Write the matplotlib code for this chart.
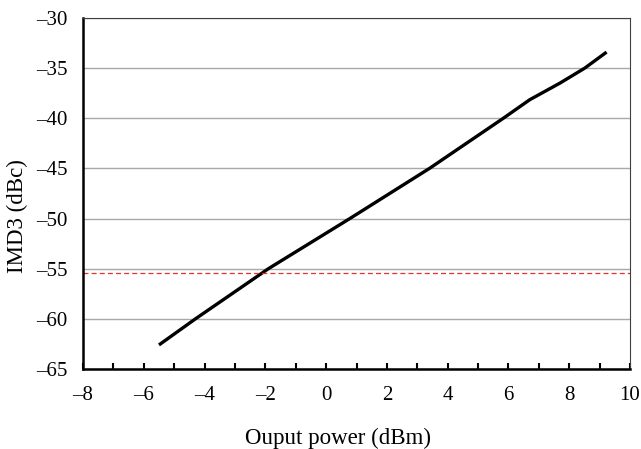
import matplotlib
matplotlib.use("Agg")
from matplotlib import pyplot
from matplotlib.ticker import MultipleLocator

pyplot.rcParams['font.family'] = ['Liberation Serif', 'DejaVu Serif']

# values
pout = [-5.5, -4.3, -1.9, 0.78, 3.4, 5.83, 6.70, 7.69, 8.51, 9.23]
imd3 = [-62.6, -60.0, -55.0, -50.0, -45.0, -40.0, -38.15, -36.5, -35.0, -33.4]
limit_level = -55.4

fig = pyplot.figure(figsize=(6.41, 4.49), dpi=100)
ax = fig.add_axes([83 / 641, 1 - 369 / 449, (630 - 83) / 641, (369 - 18) / 449])

ax.plot(pout, imd3, color='black', lw=2.4, solid_capstyle='butt', solid_joinstyle='round')
ax.axhline(limit_level, color='#e03030', lw=0.9, ls=(0, (4, 2.5)))

ax.set_xlim(-8, 10)
ax.set_ylim(-65, -30)
ax.xaxis.set_major_locator(MultipleLocator(2))
ax.xaxis.set_minor_locator(MultipleLocator(1))
ax.yaxis.set_major_locator(MultipleLocator(5))
ax.grid(axis='y', color='#a8a8a8', lw=1.0)
ax.set_axisbelow(True)

ax.tick_params(axis='x', which='both', direction='in', length=4, width=1.5,
               labelsize=15, pad=12)
ax.tick_params(axis='y', length=0, labelsize=15, pad=11)
for side in ('left', 'bottom'):
    ax.spines[side].set_linewidth(1.8)
for side in ('top', 'right'):
    ax.spines[side].set_linewidth(0.8)
    ax.spines[side].set_color('#404040')

dash = lambda v, p: f'{v:.0f}'.replace('-', '\u2013')
ax.xaxis.set_major_formatter(pyplot.FuncFormatter(dash))
ax.yaxis.set_major_formatter(pyplot.FuncFormatter(dash))

# axis titles sit a bit off-centre in the reference
fig.text(338 / 641, 1 - 438 / 449, 'Ouput power (dBm)', fontsize=16.5,
         ha='center', va='center')
fig.text(17.5 / 641, 1 - 216 / 449, 'IMD3 (dBc)', fontsize=16.5,
         ha='center', va='center', rotation=90)

fig.savefig('out.png', dpi=100)
